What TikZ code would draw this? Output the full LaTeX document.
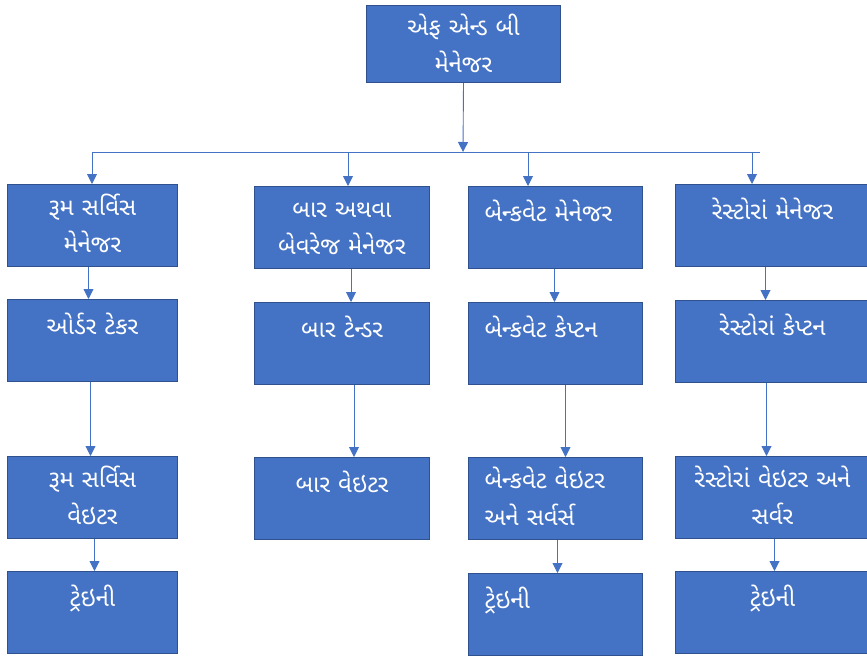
\documentclass[tikz,border=0pt]{standalone}
\usepackage{fontspec}
\newfontfamily\gujfont[Script=Gujarati]{Noto Sans Gujarati UI}
\usetikzlibrary{arrows.meta}

\definecolor{boxblue}{HTML}{4472C4}
\definecolor{boxline}{HTML}{2F528F}
\definecolor{wireblue}{HTML}{4472C4}

\tikzset{
  post/.style={draw=boxline, fill=boxblue, text=white, line width=1pt,
    inner sep=0pt, anchor=north west, align=center,
    text height=35pt, text depth=47pt,
    font=\gujfont\fontsize{24}{37}\selectfont},
  two/.style={text height=31pt, text depth=51pt},
  leftpost/.style={align=left, inner xsep=16pt},
  wire/.style={wireblue, line width=0.9pt},
  link/.style={wire, -{Triangle[width=10pt,length=10pt]}}
}

\begin{document}
\begin{tikzpicture}[x=1pt, y=-1pt]
      \useasboundingbox (0,0) rectangle (867,661);

      % top
      \node[post, two, text width=194pt, text height=30pt, text depth=47pt] (fb) at (366,5) {એફ એન્ડ બી\\મેનેજર};
      \coordinate (hub) at (463,152);
      \draw[link] (fb.south) -- (hub);

      % bus
      \coordinate (b1) at (92,152);
      \coordinate (b2) at (348,152);
      \coordinate (b3) at (528,152);
      \coordinate (b4) at (752,152);
      \coordinate (bend) at (760,152);
      \draw[wire] (b1) -- (bend);

      % room service
      \node[post, two, text width=170pt] (rsm) at (7,184) {રૂમ સર્વિસ\\મેનેજર};
      \node[post, text width=170pt] (ot) at (7,299) {ઓર્ડર ટેકર};
      \node[post, two, text width=170pt] (rsw) at (7,456) {રૂમ સર્વિસ\\વેઇટર};
      \node[post, text width=170pt] (tr1) at (7,571) {ટ્રેઇની};
      \draw[link] (b1) -- (rsm.north -| b1);
      \draw[link] ([xshift=-4pt]rsm.south) -- ([xshift=-4pt]ot.north);
      \draw[link] ([xshift=-2pt]ot.south) -- ([xshift=-2pt]rsw.north);
      \draw[link] ([xshift=2pt]rsw.south) -- ([xshift=2pt]tr1.north);

      % bar
      \node[post, two, text width=175pt] (bvm) at (254,186) {બાર અથવા\\બેવરેજ મેનેજર};
      \node[post, text width=175pt] (bt) at (254,302) {બાર ટેન્ડર};
      \node[post, text width=175pt] (bw) at (254,457) {બાર વેઇટર};
      \draw[link] (b2) -- (bvm.north -| b2);
      \draw[link] ([xshift=9pt]bvm.south) -- ([xshift=9pt]bt.north);
      \draw[link] ([xshift=12pt]bt.south) -- ([xshift=12pt]bw.north);

      % banquet
      \node[post, leftpost, text width=142pt] (bqm) at (468,186) {બેન્કવેટ મેનેજર};
      \node[post, leftpost, text width=142pt] (bqc) at (468,302) {બેન્કવેટ કેપ્ટન};
      \node[post, leftpost, two, text width=142pt] (bqw) at (468,457) {બેન્કવેટ વેઇટર\\અને સર્વર્સ};
      \node[post, leftpost, text width=142pt] (tr3) at (468,573) {ટ્રેઇની};
      \draw[link] (b3) -- (bqm.north -| b3);
      \draw[link] ([xshift=-1pt]bqm.south) -- ([xshift=-1pt]bqc.north);
      \draw[link] ([xshift=10pt]bqc.south) -- ([xshift=10pt]bqw.north);
      \draw[link] ([xshift=2pt]bqw.south) -- ([xshift=2pt]tr3.north);

      % restaurant
      \node[post, text width=194pt] (rtm) at (675,184) {રેસ્ટોરાં મેનેજર};
      \node[post, text width=194pt] (rtc) at (675,300) {રેસ્ટોરાં કેપ્ટન};
      \node[post, two, text width=194pt] (rtw) at (675,456) {રેસ્ટોરાં વેઇટર અને\\સર્વર};
      \node[post, text width=194pt] (tr4) at (675,571) {ટ્રેઇની};
      \draw[link] (b4) -- (rtm.north -| b4);
      \draw[link] ([xshift=-7pt]rtm.south) -- ([xshift=-7pt]rtc.north);
      \draw[link] ([xshift=-6pt]rtc.south) -- ([xshift=-6pt]rtw.north);
      \draw[link] ([xshift=2pt]rtw.south) -- ([xshift=2pt]tr4.north);
    \end{tikzpicture}
\end{document}
